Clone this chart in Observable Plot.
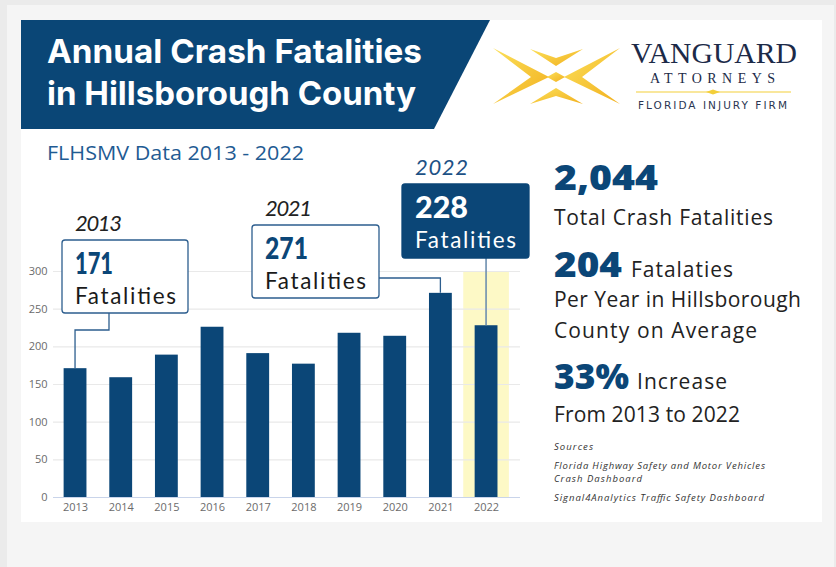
<!DOCTYPE html>
<html>
<head>
<meta charset="utf-8">
<script src="https://cdn.jsdelivr.net/npm/d3@7"></script>
<script src="https://cdn.jsdelivr.net/npm/@observablehq/plot@0.6"></script>
<style>
  html, body { margin: 0; padding: 0; }
  body { width: 836px; height: 567px; position: relative; overflow: hidden; background: #ebebeb; }
  #deco { position: absolute; left: 0; top: 0; }
  #chart { position: absolute; left: 21px; top: 140px; }
</style>
</head>
<body>
<svg id="deco" width="836" height="567"></svg>
<div id="chart"></div>
<script>
// ---------- data ----------
const years = ["2013", "2014", "2015", "2016", "2017", "2018", "2019", "2020", "2021", "2022"];
const fatalities = [171, 159, 189, 226, 191, 177, 218, 214, 271, 228];
const yTicks = [0, 50, 100, 150, 200, 250, 300];
const highlightYear = "2022";
const calloutYears = ["2013", "2021", "2022"];
const statsTotal = "2,044";
const statsAverage = "204";
const statsIncrease = "33%";

const data = years.map((year, i) => ({year, value: fatalities[i]}));

// ---------- decoration (page, header, logo, side panel) ----------
const deco = d3.select("#deco");
const NAVY = "#0b4677";
deco.append("rect").attr("x", 7).attr("y", 5).attr("width", 827).attr("height", 562).attr("fill", "#f5f5f5");
deco.append("rect").attr("x", 21).attr("y", 20).attr("width", 801).attr("height", 502).attr("fill", "#ffffff");
deco.append("polygon").attr("points", "21,20 490,20 434,129 21,129").attr("fill", "#0a4676");

function txt(sel, s, o) {
  const t = sel.append("text").attr("x", o.x).attr("y", o.y).text(s)
    .attr("text-anchor", "start")
    .attr("font-family", o.font || "'Open Sans', sans-serif")
    .attr("font-size", o.size).attr("font-weight", o.weight || 400)
    .attr("fill", o.fill || "#222");
  if (o.italic) t.attr("font-style", "italic");
  if (o.w) t.attr("textLength", o.w).attr("lengthAdjust", o.adj || "spacing");
  return t;
}

// title
txt(deco, "Annual Crash Fatalities", {x: 47, y: 63, size: 33, weight: 700, fill: "#fff", font: "Inter, sans-serif", w: 375, adj: "spacingAndGlyphs"});
txt(deco, "in Hillsborough County", {x: 47, y: 105, size: 33, weight: 700, fill: "#fff", font: "Inter, sans-serif", w: 369, adj: "spacingAndGlyphs"});

// logo
const defs = deco.append("defs");
const grad = defs.append("linearGradient").attr("id", "gold").attr("x1", "0").attr("y1", "0").attr("x2", "1").attr("y2", "1");
grad.append("stop").attr("offset", "0%").attr("stop-color", "#fbe05a");
grad.append("stop").attr("offset", "100%").attr("stop-color", "#f2b01e");
const logo = deco.append("g").attr("fill", "url(#gold)");
logo.append("polygon").attr("points", "493,48 549,77 493,104 531,77");   // >
logo.append("polygon").attr("points", "620,48 564,77 620,104 582,77");   // <
logo.append("polygon").attr("points", "530,49 556,66 583,49 556,58");    // V
logo.append("polygon").attr("points", "530,104 556,88 583,104 556,96");  // ^
logo.append("polygon").attr("points", "556,72 565,77 556,82 547,77");    // centre
txt(deco, "VANGUARD", {x: 631, y: 63, size: 30, fill: "#1c2a48", font: "'Liberation Serif', serif", w: 166, adj: "spacingAndGlyphs"});
txt(deco, "ATTORNEYS", {x: 650, y: 83, size: 14, fill: "#1c2a48", font: "'Liberation Serif', serif", w: 125});
deco.append("line").attr("x1", 636).attr("x2", 791).attr("y1", 92).attr("y2", 92).attr("stroke", "#f3cf3a").attr("stroke-width", 1.2);
deco.append("polygon").attr("points", "706,92 713,89.5 720,92 713,94.5").attr("fill", "#f3cf3a");
txt(deco, "FLORIDA INJURY FIRM", {x: 638, y: 109, size: 10.5, fill: "#2a3552", font: "'DejaVu Sans', sans-serif", w: 149});

// subtitle
txt(deco, "FLHSMV Data 2013 - 2022", {x: 47, y: 160, size: 20.5, fill: "#1f5b93", w: 257, adj: "spacingAndGlyphs"});

// side panel
const P = 554;
const big = {size: 36, weight: 800, fill: NAVY, adj: "spacingAndGlyphs"};
txt(deco, statsTotal, {...big, x: P, y: 190, w: 104});
txt(deco, "Total Crash Fatalities", {x: P, y: 225, size: 21, w: 219});
txt(deco, statsAverage, {...big, x: P, y: 277, w: 68});
txt(deco, "Fatalaties", {x: 631, y: 277, size: 21, w: 102});
txt(deco, "Per Year in Hillsborough", {x: P, y: 307, size: 21, w: 247});
txt(deco, "County on Average", {x: P, y: 338, size: 21, w: 203});
txt(deco, statsIncrease, {...big, x: P, y: 389, w: 75});
txt(deco, "Increase", {x: 637, y: 389, size: 21, w: 90});
txt(deco, "From 2013 to 2022", {x: P, y: 422, size: 21, w: 186});
txt(deco, "Sources", {x: P, y: 450, size: 9.5, italic: true, fill: "#333", w: 39});
txt(deco, "Florida Highway Safety and Motor Vehicles", {x: P, y: 469, size: 9.5, italic: true, fill: "#333", w: 211});
txt(deco, "Crash Dashboard", {x: P, y: 482, size: 9.5, italic: true, fill: "#333", w: 88});
txt(deco, "Signal4Analytics Traffic Safety Dashboard", {x: P, y: 501, size: 9.5, italic: true, fill: "#333", w: 210});

// ---------- chart ----------
const OX = 21, OY = 140; // chart svg offset on page
const plot = Plot.plot({
  width: 520,
  height: 382,
  marginLeft: 32,
  marginRight: 21,
  marginTop: 131,
  marginBottom: 25,
  style: {background: "transparent", fontFamily: "'Open Sans', sans-serif", fontSize: "11px", color: "#6b6b6b", overflow: "visible"},
  x: {domain: years, range: [31.2, 487.9], paddingInner: 0.5, paddingOuter: 0.25, round: false, label: null, tickSize: 0, tickPadding: 6},
  y: {domain: [0, 300], ticks: yTicks, label: null, tickSize: 0, tickPadding: 6},
  marks: [
    Plot.barY(data.filter(d => d.year === highlightYear), {x: "year", y: () => yTicks[yTicks.length - 1], fill: "#fdf9c6", insetLeft: -11.4, insetRight: -11.4}),
    Plot.ruleY(yTicks.filter(t => t > 0), {stroke: "#e9e9e9", strokeWidth: 1.2}),
    Plot.ruleY([0], {stroke: "#c9d4ea", strokeWidth: 1.2}),
    Plot.barY(data, {x: "year", y: "value", fill: NAVY})
  ]
});
document.getElementById("chart").appendChild(plot);

// callouts, anchored on bars through the plot's scales
const xs = plot.scale("x"), ys = plot.scale("y");
const barCenter = yr => xs.apply(yr) + xs.bandwidth / 2;
const barTop = yr => ys.apply(fatalities[years.indexOf(yr)]);
const svg = d3.select(plot);
const g = svg.append("g");
const boxes = {
  "2013": {x: 62, y: 240, w: 126, h: 73, filled: false, yearColor: "#222"},
  "2021": {x: 252, y: 225, w: 127, h: 73, filled: false, yearColor: "#222"},
  "2022": {x: 402, y: 184, w: 127, h: 74, filled: true, yearColor: "#1d5185"}
};
const CF = "Lato, sans-serif";
calloutYears.forEach(yr => {
  const b = boxes[yr];
  const bx = b.x - OX, by = b.y - OY;
  const c = barCenter(yr), t = barTop(yr);
  let path;
  if (yr === "2013") path = `M${bx + 47},${by + b.h}V${330 - OY}H${c}V${t}`;
  else if (yr === "2021") path = `M${bx + b.w},${278 - OY}H${c}V${t}`;
  else path = `M${c},${by + b.h}V${t}`;
  g.append("path").attr("d", path).attr("fill", "none")
    .attr("stroke", b.filled ? "#6d8fb0" : "#2d5e8e").attr("stroke-width", b.filled ? 1.6 : 1.3);
  g.append("rect").attr("x", bx).attr("y", by).attr("width", b.w).attr("height", b.h).attr("rx", 3)
    .attr("fill", b.filled ? NAVY : "#fff").attr("stroke", b.filled ? NAVY : "#2d5e8e").attr("stroke-width", 1.3);
  const tx = bx + 13;
  txt(g, yr, {x: tx, y: by - 9, size: 22, italic: true, fill: b.yearColor, font: CF, w: yr === "2022" ? 53 : 47});
  const val = String(fatalities[years.indexOf(yr)]);
  txt(g, val, {x: tx, y: by + 34, size: 30, weight: 900, fill: b.filled ? "#fff" : NAVY, font: CF, adj: "spacingAndGlyphs", w: val === "171" ? 38 : (val === "271" ? 43 : 53)});
  txt(g, "Fatalities", {x: tx, y: by + 63.5, size: 22.5, fill: b.filled ? "#fff" : "#1a1a1a", font: CF, w: 101});
});
</script>
</body>
</html>
